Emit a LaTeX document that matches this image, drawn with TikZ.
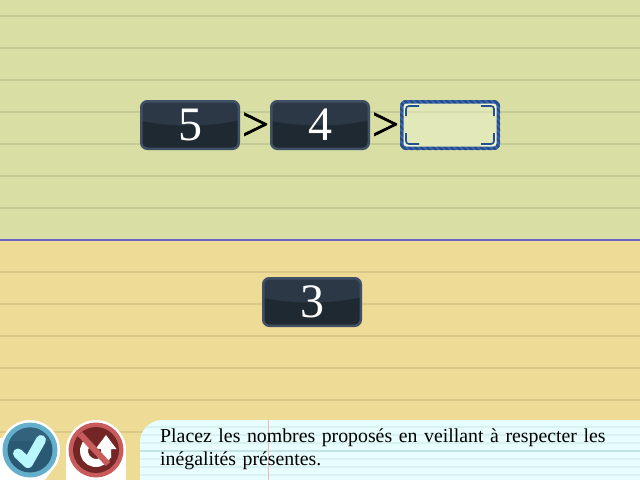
\documentclass[tikz,border=0pt]{standalone}
\usepackage{fontspec}
\setmainfont{Liberation Serif}
\newfontfamily\gtfont[FakeBold=1.4]{Liberation Serif}
\definecolor{greenbg}{HTML}{D8DEA4}
\definecolor{greenrule}{HTML}{C3CC96}
\definecolor{yellowbg}{HTML}{EDDB96}
\definecolor{yellowrule}{HTML}{D9C888}
\definecolor{divider}{HTML}{6A62C8}
\definecolor{tilefill}{HTML}{1F2932}
\definecolor{tileedge}{HTML}{3F5064}
\definecolor{tilegloss}{HTML}{2D3846}
\definecolor{slotfill}{HTML}{E2E8B8}
\definecolor{slotrule}{HTML}{D7DDAA}
\definecolor{slotblue}{HTML}{2F6CC0}
\definecolor{slotdark}{HTML}{2C4A80}
\definecolor{slotline}{HTML}{F2F6DA}
\definecolor{panelbg}{HTML}{E8FDFD}
\definecolor{panelrule}{HTML}{D8F2F4}
\definecolor{panelrulb}{HTML}{C5E3E5}
\definecolor{panelpink}{HTML}{F0B8B8}
\definecolor{okring}{HTML}{64B0CC}
\definecolor{okinner}{HTML}{2A5A73}
\definecolor{oktop}{HTML}{33627D}
\definecolor{okcheck}{HTML}{B8F8FC}
\definecolor{noring}{HTML}{C85C5C}
\definecolor{noinner}{HTML}{742626}
\tikzset{
  x=1pt,y=-1pt,
  tile/.style={draw=tileedge,line width=2.5pt,fill=tilefill,rounded corners=6pt,
    minimum width=97.5pt,minimum height=47.5pt,inner sep=0pt,text=white,
    font=\fontsize{48}{48}\selectfont,
    path picture={\fill[tilegloss,sharp corners] (path picture bounding box.north west)
      -- (path picture bounding box.north east) -- ++(0,19)
      .. controls +(-30,7) and +(30,7) .. ++(-100,0) -- cycle;}},
  gt/.style={inner sep=0pt,font=\gtfont\fontsize{48}{48}\selectfont,text=black},
  slotbox/.style={rounded corners=6pt,minimum width=100pt,minimum height=50pt,inner sep=0pt},
  bracket/.style={draw=slotblue!75!black,line width=1.6pt,rounded corners=3pt},
  bracketshade/.style={draw=slotline,line width=1.2pt,rounded corners=3pt},
  rulegreen/.style={draw=greenrule,line width=2pt},
  ruleyellow/.style={draw=yellowrule,line width=2pt},
  panelline/.style={draw=panelrule,line width=2pt},
  prompt/.style={anchor=north west,inner sep=0pt,align=left,text width=470pt,
    font=\fontsize{19.8}{23}\selectfont,text=black},
}
\begin{document}
\begin{tikzpicture}
\useasboundingbox (0,0) rectangle (640,480);
% backgrounds
\fill[greenbg] (0,0) rectangle (640,240);
\fill[yellowbg] (0,240) rectangle (640,480);
\foreach \yy in {16,48,80,112,144,176,208} \draw[rulegreen] (0,\yy) -- (640,\yy);
\foreach \yy in {272,304,336,368,400,432} \draw[ruleyellow] (0,\yy) -- (640,\yy);
\draw[divider,line width=2pt] (0,240) -- (640,240);
% number tiles
\node[tile] (five) at (190,125) {5};
\node[tile] (four) at (320,125) {4};
\node[tile] (three) at (312,302) {3};
\node[gt] (gtone) at (255.5,126.5) {>};
\node[gt] (gttwo) at (385.5,126.5) {>};
% empty slot
\begin{scope}
  \clip[rounded corners=6pt] (400,100) rectangle (500,150);
  \fill[slotblue] (400,100) rectangle (500,150);
  \foreach \k in {0,6,...,168}
    \draw[slotdark,line width=2.2pt] (340+\k,96) -- (340+\k+60,156);
\end{scope}
\node[slotbox] (slot) at (450,125) {};
\fill[slotfill,rounded corners=3pt] (403.5,103.5) rectangle (496.5,146.5);
\draw[slotrule,line width=2pt] (404,112) -- (496,112);
\foreach \ax/\sx in {406/1,494/-1}{
  \draw[bracketshade] (\ax-1.6*\sx,116) -- (\ax-1.6*\sx,104.4) -- (\ax+13*\sx,104.4);
  \draw[bracketshade] (\ax-1.6*\sx,133) -- (\ax-1.6*\sx,145.6) -- (\ax+13*\sx,145.6);
  \draw[bracket] (\ax,116) -- (\ax,106) -- (\ax+13*\sx,106);
  \draw[bracket] (\ax,133) -- (\ax,144) -- (\ax+13*\sx,144);
}
% instruction panel
\begin{scope}
  \clip (162,420) -- (640,420) -- (640,480) -- (140,480) -- (140,442)
    .. controls (140,430) and (150,420) .. (162,420) -- cycle;
  \fill[panelbg] (140,420) rectangle (640,480);
  \foreach \yy in {427,435,443,459,467,475} \draw[panelline] (140,\yy) -- (640,\yy);
  \draw[panelrulb,line width=2pt] (140,451) -- (640,451);
  \draw[panelpink,line width=1pt] (268,420) -- (268,480);
\end{scope}
\node[prompt] (prompt) at (160,429) {Placez les nombres proposés en veillant à respecter les\\inégalités présentes.};
% validate button
\fill[white] (0,480) -- (0,438) -- (30,438) -- (58,462) -- (45,480) -- cycle;
\fill[white] (30,450) circle (30);
\fill[okring] (30,450) circle (27.5);
\fill[okinner] (30,450) circle (22.5);
\begin{scope}
  \clip (30,450) circle (22.5);
  \fill[oktop] (5,425) rectangle (55,441);
\end{scope}
\draw[okcheck,line width=10pt,line join=round,line cap=round] (18,453.5) -- (28,463) -- (41,440);
% disabled reset button
\fill[white] (66,450) rectangle (126,480);
\fill[white] (96,450) circle (30);
\fill[noring] (96,450) circle (27.5);
\fill[noinner] (96,450) circle (23);
\draw[white,line width=8pt] (96,451) ++(235:12) arc[start angle=235,end angle=15,radius=12];
\fill[white] (106,435) -- (116.5,449) -- (111,449) -- (111,458) -- (101,458) -- (101,449) -- (95.5,449) -- cycle;
\draw[noring,line width=6pt] (80,434) -- (108,464);
\end{tikzpicture}
\end{document}
